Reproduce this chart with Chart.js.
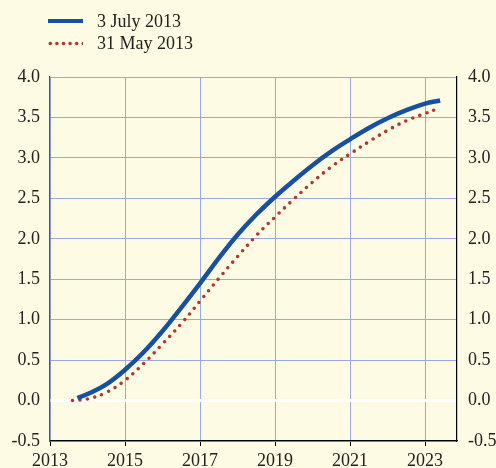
<!DOCTYPE html>
<html>
<head>
<meta charset="utf-8">
<script src="https://cdn.jsdelivr.net/npm/chart.js@4.4.1/dist/chart.umd.min.js"></script>
<style>
  body { margin: 0; background: #fdfbe3; }
  #wrap { position: relative; width: 496px; height: 468px; }
  #legend { position: absolute; left: 48px; top: 10px; font: 18px "Liberation Serif", serif; color: #222; }
  .row { display: flex; align-items: center; height: 22px; }
  .sample { width: 35px; height: 5px; margin-right: 14px; }
  .solid { background: #1750a0; height: 4.5px; }
  .dots { background: radial-gradient(circle, #b0382e 1.6px, transparent 2.1px) repeat-x; background-size: 6.6px 5px; background-position: -1px 0; }
</style>
</head>
<body>
<div id="wrap">
  <canvas id="myChart" width="496" height="468"></canvas>
  <div id="legend">
    <div class="row"><div class="sample solid"></div><span>3 July 2013</span></div>
    <div class="row"><div class="sample dots"></div><span>31 May 2013</span></div>
  </div>
</div>
<script>
// curves (year, percent)
const julyYears = [2013.73, 2014, 2014.5, 2015, 2015.5, 2016, 2016.5, 2017, 2017.5, 2018, 2018.5, 2019, 2019.5, 2020, 2020.5, 2021, 2021.5, 2022, 2022.5, 2023, 2023.4];
const julyValues = [0.03, 0.08, 0.2, 0.38, 0.6, 0.86, 1.15, 1.45, 1.76, 2.05, 2.3, 2.52, 2.72, 2.91, 3.08, 3.23, 3.37, 3.49, 3.59, 3.67, 3.71];

const mayYears = [2013.6, 2014, 2014.5, 2015, 2015.5, 2016, 2016.5, 2017, 2017.5, 2018, 2018.5, 2019, 2019.5, 2020, 2020.5, 2021, 2021.5, 2022, 2022.5, 2023, 2023.35];
const mayValues = [0.0, 0.02, 0.1, 0.25, 0.46, 0.7, 0.95, 1.23, 1.51, 1.78, 2.04, 2.27, 2.49, 2.7, 2.89, 3.05, 3.2, 3.34, 3.46, 3.55, 3.61];

const xTicks = [2013, 2015, 2017, 2019, 2021, 2023];
const yTicks = [-0.5, 0, 0.5, 1, 1.5, 2, 2.5, 3, 3.5, 4];

const toPoints = (xs, ys) => xs.map((x, i) => ({ x: x, y: ys[i] }));

const font = { family: 'Liberation Serif', size: 18 };
const gridBlue = '#9aa8e6';

const yScale = (side) => ({
  type: 'linear',
  position: side,
  min: -0.5,
  max: 4,
  afterBuildTicks: s => { s.ticks = yTicks.map(v => ({ value: v })); },
  afterFit: s => { s.width = side === 'left' ? 50 : 39; },
  border: { color: side === 'left' ? '#555' : '#000', width: 1.2 },
  grid: {
    display: side === 'left',
    drawTicks: false,
    color: c => c.tick && c.tick.value === 0 ? '#ffffff' : gridBlue,
    lineWidth: c => c.tick && c.tick.value === 0 ? 3 : 1
  },
  ticks: {
    font: font,
    color: '#222',
    padding: side === 'left' ? 10 : 11,
    callback: v => v.toFixed(1)
  }
});

const ctx = document.getElementById('myChart').getContext('2d');
const myChart = new Chart(ctx, {
  type: 'line',
  data: {
    datasets: [{
      label: '3 July 2013',
      data: toPoints(julyYears, julyValues),
      borderColor: '#1750a0',
      borderWidth: 4.5,
      pointRadius: 0,
      tension: 0.4
    }, {
      label: '31 May 2013',
      data: toPoints(mayYears, mayValues),
      borderColor: '#b0382e',
      borderWidth: 3.6,
      borderDash: [0, 7.5],
      borderCapStyle: 'round',
      pointRadius: 0,
      tension: 0.4
    }]
  },
  options: {
    responsive: false,
    animation: false,
    layout: { padding: { top: 77, left: 0, right: 0, bottom: 0 } },
    plugins: { legend: { display: false }, tooltip: { enabled: false } },
    scales: {
      x: {
        type: 'linear',
        min: 2013,
        max: 2023.85,
        afterBuildTicks: s => { s.ticks = xTicks.map(v => ({ value: v })); },
        afterFit: s => { s.height = 27; },
        border: { color: '#000', width: 1.2 },
        grid: { color: gridBlue, tickColor: '#000', tickLength: 5, lineWidth: 1 },
        ticks: { font: font, color: '#222', padding: 4, maxRotation: 0, callback: v => String(v) }
      },
      y: yScale('left'),
      y2: yScale('right')
    }
  }
});
</script>
</body>
</html>
